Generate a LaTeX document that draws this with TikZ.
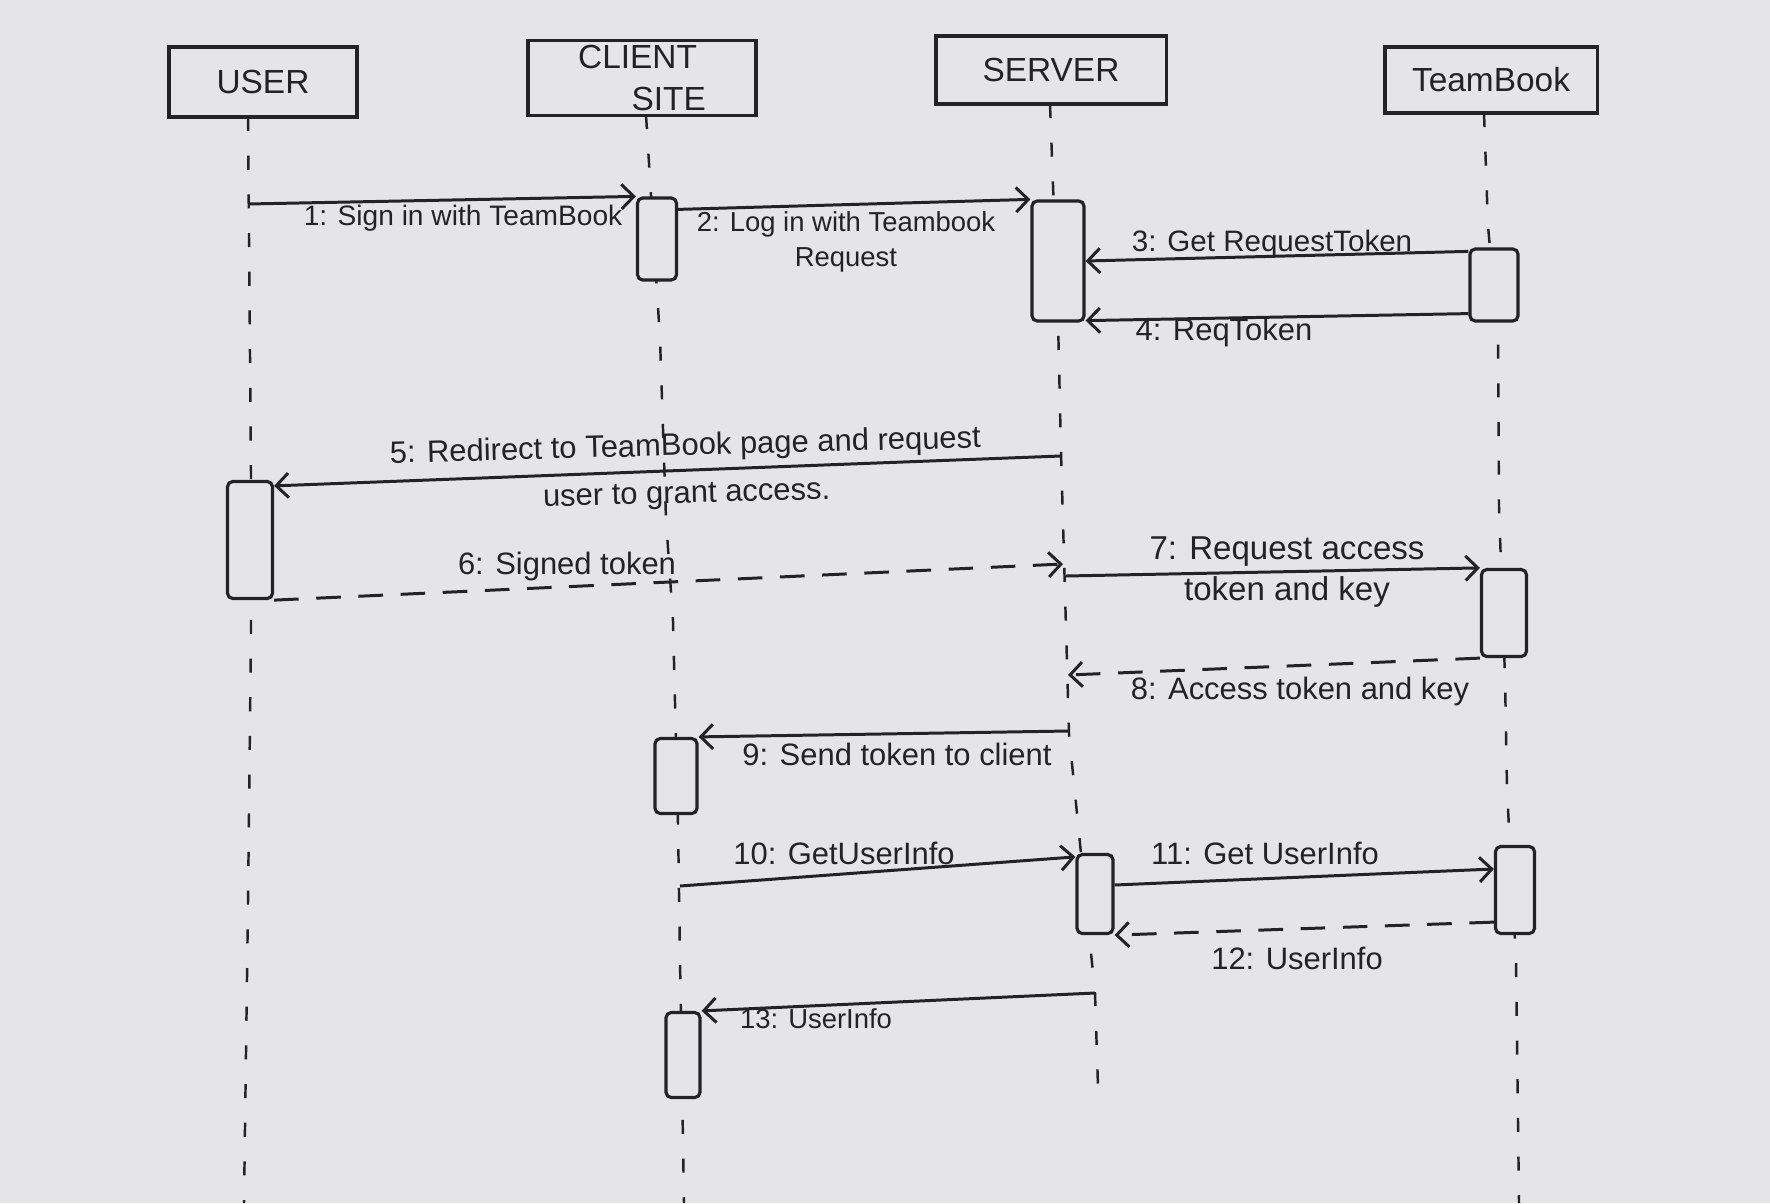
\documentclass[tikz,border=0pt]{standalone}
\usepackage{fontspec}
\setmainfont{Liberation Sans}
\usetikzlibrary{arrows.meta}
\definecolor{paper}{RGB}{229,229,231}
\definecolor{ink}{RGB}{35,35,38}
\begin{document}
\begin{tikzpicture}[x=0.01cm,y=-0.01cm,
  hdr/.style={draw=ink, line width=0.9pt, fill=paper, text=ink, font=\fontsize{9.5}{12}\selectfont, inner sep=0pt},
  act/.style={draw=ink, line width=0.9pt, fill=paper, rounded corners=1.5pt, inner sep=0pt},
  lifeline/.style={draw=ink, line width=0.7pt, dash pattern=on 4pt off 7pt},
  msg/.style={draw=ink, line width=0.85pt, -{Straight Barb[length=3.5pt,width=7pt]}},
  reply/.style={msg, dash pattern=on 7pt off 5pt},
  lbl/.style={text=ink, font=\fontsize{8.8}{10.5}\selectfont, inner sep=0pt, align=center},
  small/.style={font=\fontsize{8}{10}\selectfont}]
\fill[paper] (0,0) rectangle (1770,1203);
\useasboundingbox (0,0) rectangle (1770,1203);

% heads
\node[hdr, minimum width=1.88cm, minimum height=0.70cm] (user) at (263,82) {USER};
\node[hdr, minimum width=2.28cm, minimum height=0.75cm, align=left] (client) at (642,78) {CLIENT\\\hspace*{1.6em}SITE};
\node[hdr, minimum width=2.30cm, minimum height=0.68cm] (server) at (1051,70) {SERVER};
\node[hdr, minimum width=2.12cm, minimum height=0.66cm] (teambook) at (1491,80) {TeamBook};

% lifelines
\coordinate (ut) at (248,117);
\coordinate (ub) at (244,1203);
\coordinate (ct) at (646,115);
\coordinate (cb) at (684,1203);
\coordinate (st) at (1050,104);
\coordinate (sb) at (1098,1087);
\coordinate (tt) at (1484,113);
\coordinate (tb) at (1519,1203);
\draw[lifeline] (ut) -- (251,474) -- (251,632) -- (248,903) -- (ub);
\draw[lifeline] (ct) -- (660,339) -- (666,519) -- (673,621) -- (678,824) -- (680,960) -- (cb);
\draw[lifeline] (st) -- (1058,320) -- (1061,452) -- (1069,734) -- (1095,993) -- (sb);
\draw[lifeline] (tt) -- (1488,226) -- (1498,339) -- (1499,508) -- (1505,677) -- (1507,790) -- (1516,960) -- (tb);

% activations
\node[act, minimum width=0.39cm, minimum height=0.82cm] (ca1) at (657,239) {};
\node[act, minimum width=0.52cm, minimum height=1.20cm] (sa1) at (1058,261) {};
\node[act, minimum width=0.48cm, minimum height=0.72cm] (ta1) at (1494,285) {};
\node[act, minimum width=0.45cm, minimum height=1.17cm] (ua) at (250,540) {};
\node[act, minimum width=0.45cm, minimum height=0.87cm] (ta2) at (1504,613) {};
\node[act, minimum width=0.42cm, minimum height=0.75cm] (ca2) at (676,776) {};
\node[act, minimum width=0.36cm, minimum height=0.79cm] (sa2) at (1095,894) {};
\node[act, minimum width=0.39cm, minimum height=0.87cm] (ta3) at (1515,890) {};
\node[act, minimum width=0.34cm, minimum height=0.85cm] (ca3) at (683,1055) {};

% message endpoints on lifelines
\coordinate (m1s) at (248,204);
\coordinate (m5s) at (1061,456);
\coordinate (m6e) at (1063,564);
\coordinate (m7s) at (1066,576);
\coordinate (m8e) at (1068,675);
\coordinate (m9s) at (1069,731);
\coordinate (m10s) at (680,886);
\coordinate (m13s) at (1095,993);

% messages
\draw[msg] (m1s) -- (ca1.north west);
\draw[msg] ([yshift=-0.13cm]ca1.north east) -- (sa1.north west);
\draw[msg] ([yshift=-0.04cm]ta1.north west) -- (sa1.east);
\draw[msg] ([yshift=0.09cm]ta1.south west) -- ([yshift=0.02cm]sa1.south east);
\draw[msg] (m5s) -- ([yshift=-0.06cm]ua.north east);
\draw[reply] (ua.south east) -- (m6e);
\draw[msg] (m7s) -- (ta2.north west);
\draw[reply] (ta2.south west) -- (m8e);
\draw[msg] (m9s) -- (ca2.north east);
\draw[msg] (m10s) -- ([yshift=-0.04cm]sa2.north west);
\draw[msg] ([yshift=0.09cm]sa2.east) -- ([yshift=0.21cm]ta3.west);
\draw[reply] ([yshift=0.13cm]ta3.south west) -- (sa2.south east);
\draw[msg] (m13s) -- (ca3.north east);

% labels
\node[lbl, small] (l1) at (463,218) {1: Sign in with TeamBook};
\node[lbl, font=\fontsize{7.8}{10}\selectfont] (l2) at (846,242) {2: Log in with Teambook\\Request};
\node[lbl, font=\fontsize{8.4}{10}\selectfont] (l3) at (1272,244) {3: Get RequestToken};
\node[lbl] (l4) at (1224,332) {4: ReqToken};
\node[lbl, rotate=1.5] (l5) at (686,471) {5: Redirect to TeamBook page and request\\[3pt]user to grant access.};
\node[lbl] (l6) at (567,566) {6: Signed token};
\node[lbl, font=\fontsize{9.4}{10.5}\selectfont] (l7) at (1287,572) {7: Request access\\[1pt]token and key};
\node[lbl] (l8) at (1300,691) {8: Access token and key};
\node[lbl] (l9) at (897,754) {9: Send token to client};
\node[lbl] (l10) at (844,853) {10: GetUserInfo};
\node[lbl] (l11) at (1265,853) {11: Get UserInfo};
\node[lbl] (l12) at (1297,958) {12: UserInfo};
\node[lbl, font=\fontsize{7.8}{10}\selectfont] (l13) at (816,1019) {13: UserInfo};
\end{tikzpicture}
\end{document}
